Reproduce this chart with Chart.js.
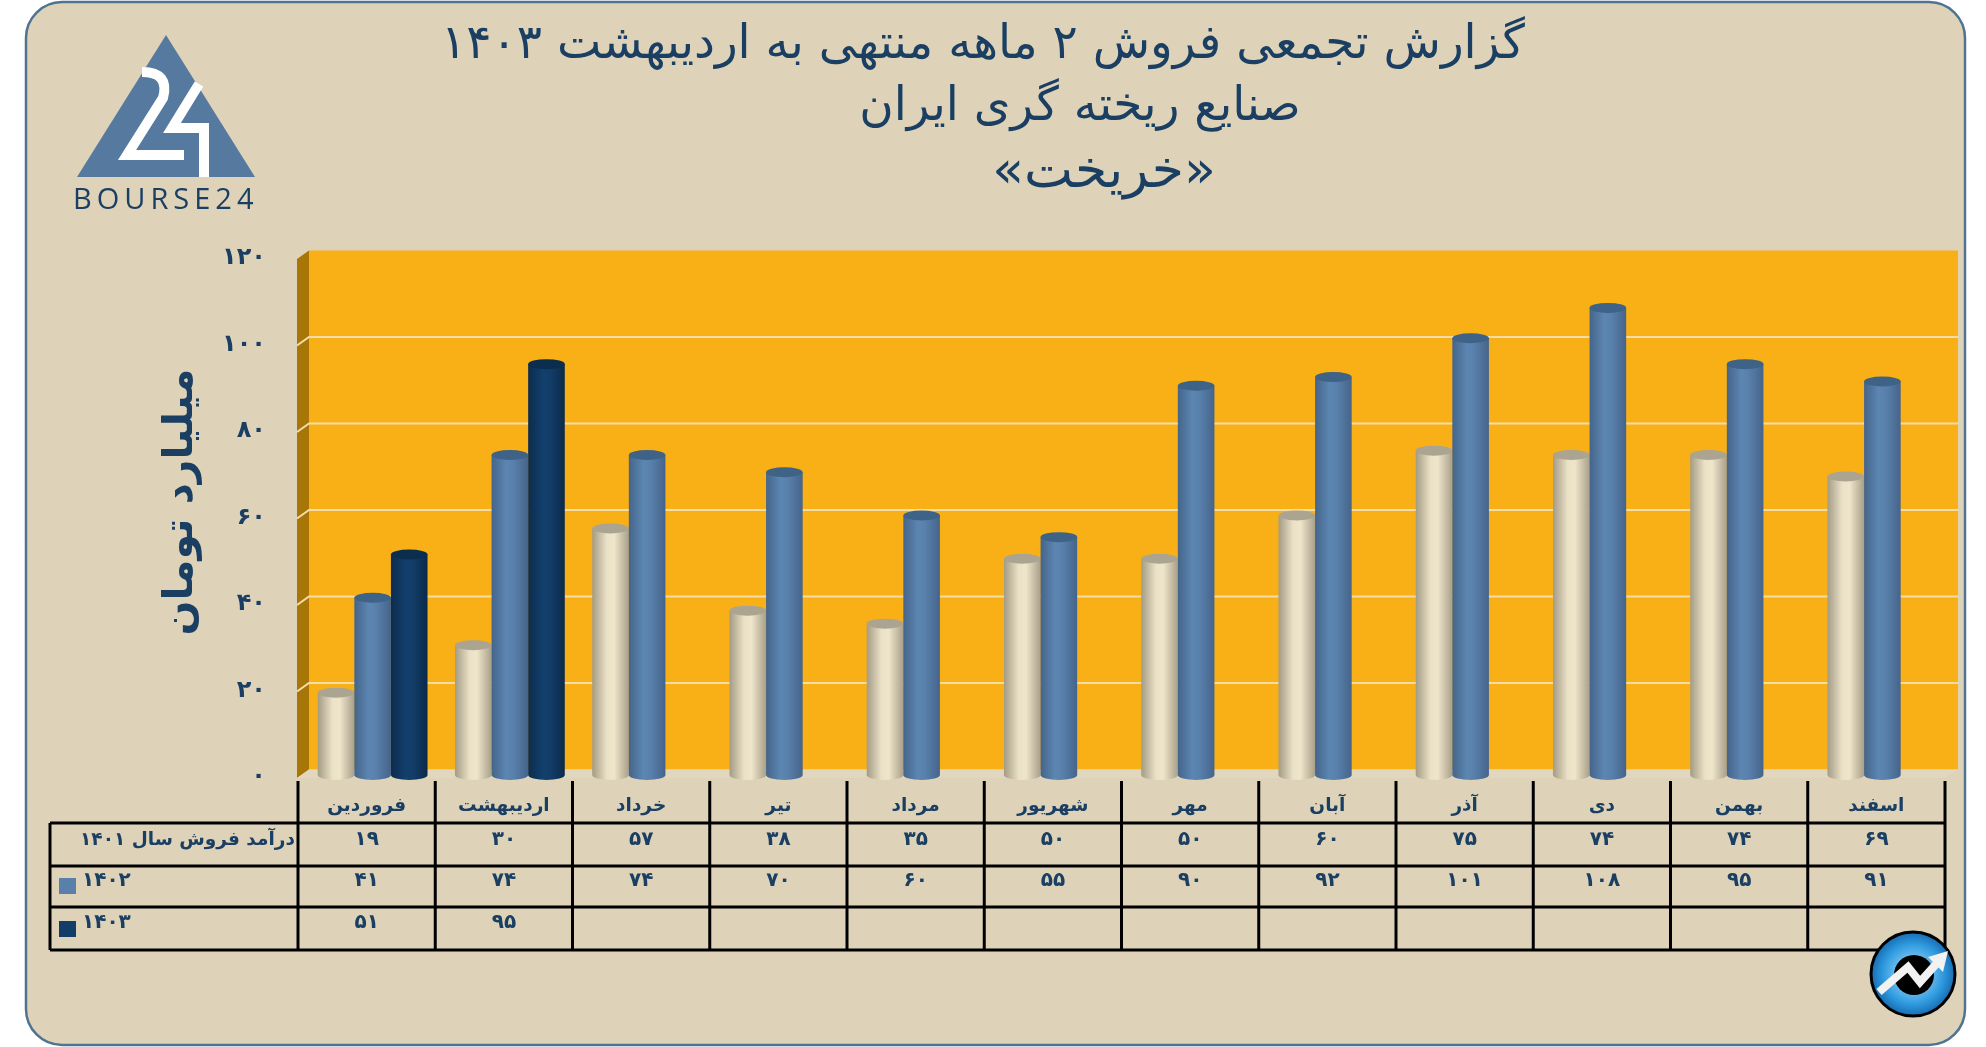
<!DOCTYPE html>
<html lang="fa">
<head>
<meta charset="utf-8">
<title>خریخت</title>
<script src="https://cdn.jsdelivr.net/npm/chart.js@4"></script>
<style>
    html, body { margin: 0; padding: 0; background: #fff; }
    canvas { display: block; }
</style>
</head>
<body>
<canvas id="salesChart" width="1986" height="1047"></canvas>
<script>
const categories = ["فروردین", "اردیبهشت", "خرداد", "تیر", "مرداد", "شهریور", "مهر", "آبان", "آذر", "دی", "بهمن", "اسفند"];
const sales1401 = [19, 30, 57, 38, 35, 50, 50, 60, 75, 74, 74, 69];
const sales1402 = [41, 74, 74, 70, 60, 55, 90, 92, 101, 108, 95, 91];
const sales1403 = [51, 95, null, null, null, null, null, null, null, null, null, null];
const rowLabels = ["درآمد فروش سال ۱۴۰۱", "۱۴۰۲", "۱۴۰۳"];
const titleLines = ["گزارش تجمعی فروش ۲ ماهه منتهی به اردیبهشت ۱۴۰۳", "صنایع ریخته گری ایران", "«خریخت»"];
const yAxisTitle = "میلیارد تومان";

const NAVY = "#1a3f63";
const FONT = '"DejaVu Sans", sans-serif';

// رنگ استوانه ها: لبه، وسط، لبه، درپوش
const cylinderColors = [
    ["#a39b84", "#ebe1c7", "#efe5cb", "#a9a08a", "#aaa491"],
    ["#45658a", "#5c86b2", "#5880ab", "#46648a", "#3f6287"],
    ["#0d2c4d", "#123f6c", "#123d69", "#0c2a49", "#0b2d4e"],
];

function toFa(value) {
    return String(value).replace(/\d/g, d => "۰۱۲۳۴۵۶۷۸۹"[d]);
}

function roundedFrame(ctx) {
    ctx.beginPath();
    ctx.roundRect(26, 2, 1939, 1043, 36);
}

function drawLogo(ctx) {
    ctx.save();
    ctx.fillStyle = "#56799f";
    ctx.beginPath();
    ctx.moveTo(166, 35);
    ctx.lineTo(255, 177);
    ctx.lineTo(77, 177);
    ctx.closePath();
    ctx.fill();

    ctx.strokeStyle = "#fff";
    ctx.lineWidth = 10;
    ctx.lineJoin = "miter";
    ctx.beginPath();
    ctx.moveTo(142, 72);
    ctx.quadraticCurveTo(170, 72, 163, 98);
    ctx.lineTo(127, 155);
    ctx.lineTo(184, 155);
    ctx.stroke();
    ctx.beginPath();
    ctx.moveTo(199, 84);
    ctx.lineTo(172, 128);
    ctx.lineTo(204, 128);
    ctx.lineTo(204, 177);
    ctx.stroke();

    ctx.fillStyle = NAVY;
    ctx.font = '29px "Open Sans", sans-serif';
    ctx.textAlign = "left";
    ctx.textBaseline = "alphabetic";
    ctx.letterSpacing = "5px";
    ctx.fillText("BOURSE24", 73, 209);
    ctx.restore();
}

function drawBadge(ctx) {
    const cx = 1913, cy = 974;
    ctx.save();
    const glow = ctx.createRadialGradient(cx, cy, 14, cx, cy, 43);
    glow.addColorStop(0, "#7cc4f0");
    glow.addColorStop(0.55, "#2f9be0");
    glow.addColorStop(1, "#1667ad");
    ctx.fillStyle = glow;
    ctx.strokeStyle = "#000";
    ctx.lineWidth = 3;
    ctx.beginPath();
    ctx.arc(cx, cy, 42, 0, Math.PI * 2);
    ctx.fill();
    ctx.stroke();

    ctx.fillStyle = "#000";
    ctx.beginPath();
    ctx.arc(cx + 1, cy + 1, 20, 0, Math.PI * 2);
    ctx.fill();

    ctx.strokeStyle = "#f2f2f2";
    ctx.lineWidth = 8;
    ctx.lineJoin = "miter";
    ctx.beginPath();
    ctx.moveTo(1879, 992);
    ctx.lineTo(1908, 967);
    ctx.lineTo(1920, 982);
    ctx.lineTo(1938, 962);
    ctx.stroke();
    ctx.fillStyle = "#f2f2f2";
    ctx.beginPath();
    ctx.moveTo(1948, 951);
    ctx.lineTo(1943, 972);
    ctx.lineTo(1928, 957);
    ctx.closePath();
    ctx.fill();
    ctx.restore();
}

function drawWalls(ctx, chart) {
    const y = chart.scales.y;
    const zero = y.getPixelForValue(0), top = y.getPixelForValue(120);
    const backLeft = 309, backRight = 1958, frontLeft = 297, frontRight = 1945;
    const back = -5.5, front = 3;

    ctx.fillStyle = "#f9b017";
    ctx.fillRect(backLeft, top + back, backRight - backLeft, zero - top);

    ctx.fillStyle = "#a87607";
    ctx.beginPath();
    ctx.moveTo(frontLeft, top + front);
    ctx.lineTo(backLeft, top + back);
    ctx.lineTo(backLeft, zero + back);
    ctx.lineTo(frontLeft, zero + front);
    ctx.closePath();
    ctx.fill();

    ctx.fillStyle = "#e1d7bf";
    ctx.beginPath();
    ctx.moveTo(frontLeft, zero + front);
    ctx.lineTo(backLeft, zero + back);
    ctx.lineTo(backRight, zero + back);
    ctx.lineTo(frontRight, zero + front);
    ctx.closePath();
    ctx.fill();

    ctx.strokeStyle = "#f4dda9";
    ctx.lineWidth = 2;
    y.ticks.forEach(t => {
        if (t.value === 0 || t.value === 120) return;
        const p = y.getPixelForValue(t.value);
        ctx.beginPath();
        ctx.moveTo(frontLeft, p + front);
        ctx.lineTo(backLeft, p + back);
        ctx.lineTo(backRight, p + back);
        ctx.stroke();
    });
}

function drawTable(ctx) {
    const left = 50, firstCol = 298, colW = 137.25;
    const rows = [823, 866, 907, 950];
    const rowText = [840, 881, 923];
    const series = [sales1401, sales1402, sales1403];
    const right = firstCol + colW * categories.length;

    ctx.save();
    ctx.strokeStyle = "#000";
    ctx.lineWidth = 3;
    rows.forEach(r => {
        ctx.beginPath();
        ctx.moveTo(left, r);
        ctx.lineTo(right, r);
        ctx.stroke();
    });
    ctx.beginPath();
    ctx.moveTo(left, rows[0]);
    ctx.lineTo(left, rows[3]);
    ctx.stroke();
    for (let i = 0; i <= categories.length; i++) {
        const x = firstCol + colW * i;
        ctx.beginPath();
        ctx.moveTo(x, 781);
        ctx.lineTo(x, rows[3]);
        ctx.stroke();
    }

    ctx.fillStyle = NAVY;
    ctx.textBaseline = "middle";
    ctx.direction = "rtl";
    series.forEach((values, r) => {
        ctx.font = 'bold 20px ' + FONT;
        ctx.textAlign = "center";
        values.forEach((v, i) => {
            if (v === null) return;
            ctx.fillText(toFa(v), firstCol + colW * (i + 0.5), rowText[r]);
        });
        if (r === 0) {
            ctx.font = 'bold 18.5px ' + FONT;
            ctx.textAlign = "right";
            ctx.fillText(rowLabels[r], 295, rowText[r]);
        } else {
            ctx.textAlign = "left";
            ctx.direction = "ltr";
            ctx.font = 'bold 20px ' + FONT;
            ctx.fillText(rowLabels[r], 82, rowText[r]);
            ctx.direction = "rtl";
        }
    });
    ctx.fillStyle = cylinderColors[1][2];
    ctx.fillRect(59, 878, 17, 16);
    ctx.fillStyle = cylinderColors[2][2];
    ctx.fillRect(59, 921, 17, 16);
    ctx.restore();
}

function drawHeadings(ctx) {
    const lines = [[983, 46, 47], [1080, 108, 47], [1104, 173, 52]];
    ctx.save();
    ctx.fillStyle = NAVY;
    ctx.textAlign = "center";
    ctx.textBaseline = "middle";
    ctx.direction = "rtl";
    titleLines.forEach((line, i) => {
        ctx.font = lines[i][2] + 'px ' + FONT;
        ctx.fillText(line, lines[i][0], lines[i][1]);
    });

    ctx.translate(181, 502);
    ctx.rotate(-Math.PI / 2);
    ctx.font = 'bold 41px ' + FONT;
    ctx.fillText(yAxisTitle, 0, 0);
    ctx.restore();
}

const backdrop = {
    id: "backdrop",
    beforeDraw(chart) {
        const ctx = chart.ctx;
        ctx.save();
        roundedFrame(ctx);
        ctx.fillStyle = "#ded3b8";
        ctx.fill();
        ctx.strokeStyle = "#4f7390";
        ctx.lineWidth = 2.5;
        ctx.stroke();
        drawLogo(ctx);
        drawHeadings(ctx);
        drawWalls(ctx, chart);
        ctx.restore();
    },
    afterDraw(chart) {
        drawTable(chart.ctx);
        drawBadge(chart.ctx);
    },
};

function drawCylinders(ctx, meta, values, colors) {
    const ry = 5;
    meta.data.forEach((bar, i) => {
        if (values[i] === null) return;
        const { x, y, base, width } = bar.getProps(["x", "y", "base", "width"], true);
        const rx = width / 2;
        const g = ctx.createLinearGradient(x - rx, 0, x + rx, 0);
        g.addColorStop(0, colors[0]);
        g.addColorStop(0.4, colors[1]);
        g.addColorStop(0.6, colors[2]);
        g.addColorStop(1, colors[3]);
        ctx.save();
        ctx.fillStyle = g;
        ctx.beginPath();
        ctx.moveTo(x - rx, y);
        ctx.lineTo(x - rx, base);
        ctx.ellipse(x, base, rx, ry, 0, Math.PI, 0, true);
        ctx.lineTo(x + rx, y);
        ctx.closePath();
        ctx.fill();
        ctx.fillStyle = colors[4];
        ctx.beginPath();
        ctx.ellipse(x, y, rx, ry, 0, 0, Math.PI * 2);
        ctx.fill();
        ctx.restore();
    });
}

// میله ها به جای مستطیل به شکل استوانه کشیده می شوند، سری بعدی روی سری قبلی
const cylinders = {
    id: "cylinders",
    beforeDatasetsDraw(chart) {
        chart.data.datasets.forEach((ds, i) => {
            drawCylinders(chart.ctx, chart.getDatasetMeta(i), ds.data, cylinderColors[i]);
        });
    },
    beforeDatasetDraw() {
        return false;
    },
};

new Chart(document.getElementById("salesChart"), {
    type: "bar",
    data: {
        labels: categories,
        datasets: [
            { label: "۱۴۰۱", data: sales1401, backgroundColor: cylinderColors[0][1] },
            { label: "۱۴۰۲", data: sales1402, backgroundColor: cylinderColors[1][1] },
            { label: "۱۴۰۳", data: sales1403, backgroundColor: cylinderColors[2][1] },
        ],
    },
    plugins: [backdrop, cylinders],
    options: {
        responsive: false,
        animation: false,
        categoryPercentage: 0.8,
        barPercentage: 1,
        layout: { padding: { left: 0, right: 35, top: 256, bottom: 0 } },
        plugins: { legend: { display: false }, tooltip: { enabled: false } },
        scales: {
            x: {
                grid: { display: false },
                border: { display: false },
                afterFit: scale => { scale.height = 272; },
                ticks: {
                    color: NAVY,
                    font: { family: FONT, size: 18.5, weight: "bold" },
                    padding: 12,
                    labelOffset: -6,
                    maxRotation: 0,
                    autoSkip: false,
                },
            },
            y: {
                min: 0,
                max: 120,
                grid: { display: false },
                border: { display: false },
                afterFit: scale => { scale.width = 304; },
                ticks: {
                    stepSize: 20,
                    color: NAVY,
                    font: { family: FONT, size: 24, weight: "bold" },
                    padding: 30,
                    labelOffset: 2,
                    callback: value => toFa(value),
                },
            },
        },
    },
});
</script>
</body>
</html>
